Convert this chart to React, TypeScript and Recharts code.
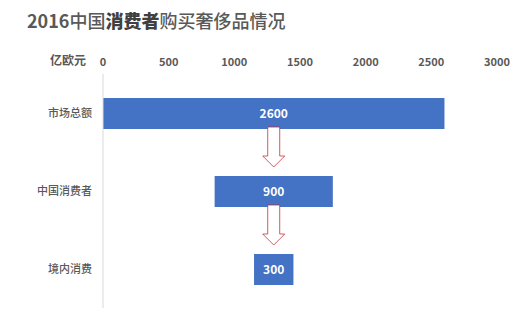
import * as React from 'react';
import { BarChart, Bar, XAxis, YAxis, LabelList } from 'recharts';

const categories = ['市场总额', '中国消费者', '境内消费'];
const values = [2600, 900, 300];
const xTicks = [0, 500, 1000, 1500, 2000, 2500, 3000];

const maxValue = Math.max(...values);
const data = categories.map((name, i) => ({
  name,
  offset: (maxValue - values[i]) / 2,
  value: values[i],
}));

const FONT = '"Noto Sans CJK SC", "Noto Sans", sans-serif';
const GREY = '#595959';

const BarWithArrow = (props: any) => {
  const { x, y, width, height, index, fill } = props;
  const cx = x + width / 2;
  const top = y + height - 2;
  const shaftEnd = y + height + 27;
  const tip = y + height + 38;
  const arrow =
    index < values.length - 1 ? (
      <path
        d={`M${cx - 6},${top} L${cx + 6},${top} L${cx + 6},${shaftEnd} L${cx + 11},${shaftEnd} L${cx},${tip} L${cx - 11},${shaftEnd} L${cx - 6},${shaftEnd} Z`}
        fill="#fff"
        stroke="#C0262D"
        strokeOpacity={0.75}
        strokeWidth={1}
      />
    ) : null;
  return (
    <g>
      <rect x={x} y={y} width={width} height={height} fill={fill} />
      {arrow}
    </g>
  );
};

export default function App() {
  return (
    <div
      style={{
        position: 'absolute',
        left: 0,
        top: 0,
        width: 524,
        height: 324,
        background: '#fff',
        fontFamily: FONT,
      }}
    >
      <div
        style={{
          position: 'absolute',
          left: 27,
          top: 8,
          fontSize: 18,
          fontWeight: 500,
          color: GREY,
          whiteSpace: 'nowrap',
          lineHeight: '24px',
        }}
      >
        <span style={{ fontWeight: 700 }}>2016</span>中国<span style={{ fontWeight: 900, color: '#404040' }}>消费者</span>购买奢侈品情况
      </div>
      <div
        style={{
          position: 'absolute',
          left: 50,
          top: 51,
          fontSize: 12,
          fontWeight: 700,
          color: GREY,
          lineHeight: '18px',
        }}
      >
        亿欧元
      </div>
      <BarChart
        width={524}
        height={324}
        data={data}
        layout="vertical"
        margin={{ top: 44, right: 27, bottom: 16, left: 0 }}
        barSize={31}
      >
        <XAxis
          type="number"
          orientation="top"
          domain={[0, 3000]}
          ticks={xTicks}
          height={30}
          axisLine={false}
          tickLine={false}
          tick={{ fill: GREY, fontSize: 11, fontWeight: 700, fontFamily: FONT }}
        />
        <YAxis
          type="category"
          dataKey="name"
          width={103}
          axisLine={{ stroke: '#d9d9d9' }}
          tickLine={false}
          tickMargin={5}
          tick={{ fill: GREY, fontSize: 11, fontWeight: 500, fontFamily: FONT }}
        />
        <Bar dataKey="offset" stackId="a" fill="transparent" isAnimationActive={false} />
        <Bar
          dataKey="value"
          stackId="a"
          fill="#4472C4"
          shape={BarWithArrow}
          isAnimationActive={false}
        >
          <LabelList
            dataKey="value"
            position="center"
            fill="#fff"
            fontSize={12}
            fontWeight={700}
            fontFamily={FONT}
          />
        </Bar>
      </BarChart>
    </div>
  );
}
